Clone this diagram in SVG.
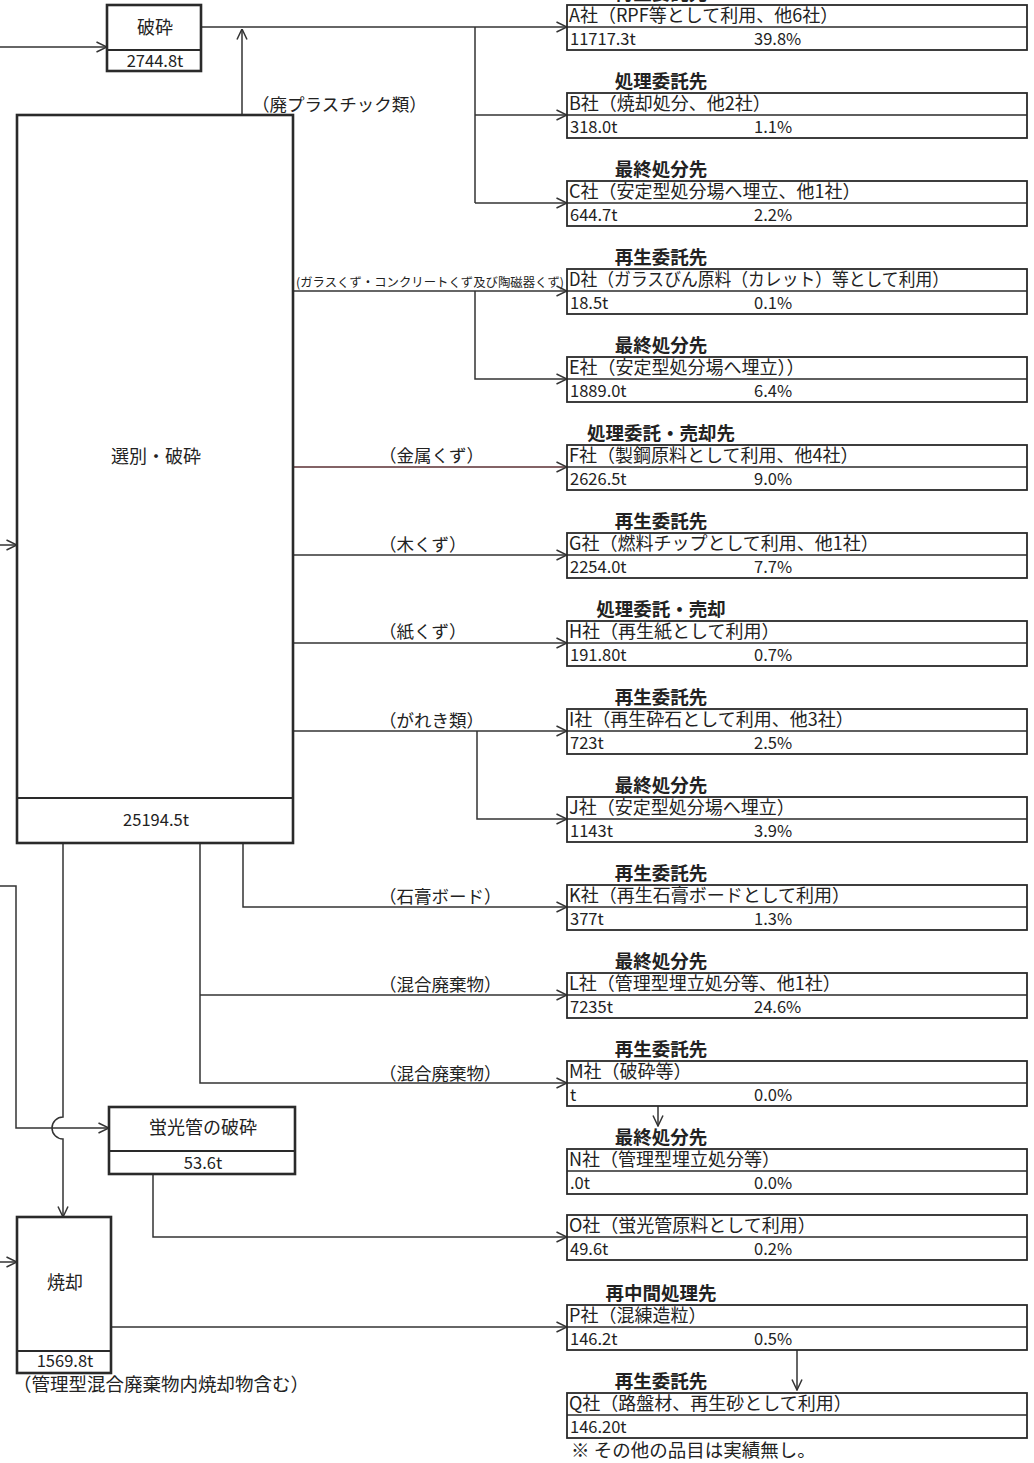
<svg xmlns="http://www.w3.org/2000/svg" width="1034" height="1463" viewBox="0 0 1034 1463">
<defs>
<style>
text{font-family:"Noto Sans CJK JP","Noto Sans",sans-serif;fill:#222}
.nb{fill:#fff;stroke:#2a2a2a;stroke-width:2.6}
.div{stroke:#2a2a2a;stroke-width:2;fill:none}
.rb{fill:#fff;stroke:#2a2a2a;stroke-width:1.8}
.rl{stroke:#2a2a2a;stroke-width:1.6;fill:none}
.c{stroke:#333;stroke-width:1.5;fill:none}
.ca{stroke:#333;stroke-width:1.5;fill:none;marker-end:url(#arr)}
.t1{font-size:18px}
.t2{font-size:16.5px}
.ttl{font-size:18.5px;font-weight:bold;text-anchor:middle}
.lbl{font-size:17.5px}
.nm{font-size:18px;text-anchor:middle}
.nv{font-size:16.5px;text-anchor:middle}
</style>
<marker id="arr" viewBox="0 0 12 12" refX="11.5" refY="6" markerWidth="12" markerHeight="12" orient="auto" markerUnits="userSpaceOnUse">
<path d="M1,1 L11.5,6 L1,11" fill="none" stroke="#333" stroke-width="1.5"/>
</marker>
</defs>

<g id="connectors">
<path class="ca" d="M0,47 H107"/>
<path class="ca" d="M0,545 H17"/>
<path class="ca" d="M0,1262 H17"/>
<path class="ca" d="M0,886 H16 V1128 H109"/>
<path class="ca" d="M201,27 H567"/>
<path class="c" d="M475,27 V203"/>
<path class="ca" d="M475,115 H567"/>
<path class="ca" d="M475,203 H567"/>
<path class="ca" d="M242,115 V29"/>
<path class="ca" d="M293,291 H567"/>
<path class="ca" d="M475,291 V379 H567"/>
<path class="ca" d="M293,467 H567" style="stroke:#5a2f33"/>
<path class="ca" d="M293,555 H567"/>
<path class="ca" d="M293,643 H567"/>
<path class="ca" d="M293,731 H567"/>
<path class="ca" d="M477,731 V819 H567"/>
<path class="ca" d="M243,843 V907 H567"/>
<path class="ca" d="M200,843 V1083 H567"/>
<path class="ca" d="M200,995 H567"/>
<path class="ca" d="M63,843 V1117 A11,11 0 0 0 63,1139 V1217"/>
<path class="ca" d="M153,1174 V1237 H567"/>
<path class="ca" d="M111,1327 H567"/>
<path class="ca" d="M658,1106 V1126"/>
<path class="ca" d="M797,1350 V1390"/>
<text class="lbl" x="252" y="111">（廃プラスチック類）</text>
<text x="296" y="287" style="font-size:12.5px" textLength="268" lengthAdjust="spacingAndGlyphs">(ガラスくず・コンクリートくず及び陶磁器くず)</text>
<text class="lbl" x="379" y="462">（金属くず）</text>
<text class="lbl" x="379" y="551">（木くず）</text>
<text class="lbl" x="379" y="638">（紙くず）</text>
<text class="lbl" x="379" y="727">（がれき類）</text>
<text class="lbl" x="379" y="903">（石膏ボード）</text>
<text class="lbl" x="379" y="991">（混合廃棄物）</text>
<text class="lbl" x="379" y="1080">（混合廃棄物）</text>
</g>

<g id="node-hasai">
<rect class="nb" x="107" y="5" width="94" height="66"/>
<line class="div" x1="107" y1="50" x2="201" y2="50"/>
<text class="nm" x="155" y="34">破砕</text>
<text class="nv" x="155" y="67">2744.8t</text>
</g>

<g id="node-senbetsu">
<rect class="nb" x="17" y="115" width="276" height="728"/>
<line class="div" x1="17" y1="798" x2="293" y2="798"/>
<text class="nm" x="156" y="463">選別・破砕</text>
<text class="nv" x="156" y="826">25194.5t</text>
</g>

<g id="node-keikou">
<rect class="nb" x="109" y="1107" width="186" height="67"/>
<line class="div" x1="109" y1="1151" x2="295" y2="1151"/>
<text class="nm" x="203" y="1134">蛍光管の破砕</text>
<text class="nv" x="203" y="1169">53.6t</text>
</g>

<g id="node-shoukyaku">
<rect class="nb" x="17" y="1217" width="94" height="156"/>
<line class="div" x1="17" y1="1351" x2="111" y2="1351"/>
<text class="nm" x="65" y="1289">焼却</text>
<text class="nv" x="65" y="1367">1569.8t</text>
<text style="font-size:18.5px" x="13" y="1391">（管理型混合廃棄物内焼却物含む）</text>
</g>

<g id="box-A">
<text class="ttl" x="661" y="0">再生委託先</text>
<rect class="rb" x="567" y="5" width="460" height="45"/><line class="rl" x1="567" y1="27" x2="1027" y2="27"/>
<text class="t1" x="569" y="22">A社（RPF等として利用、他6社）</text>
<text class="t2" x="570" y="45">11717.3t</text><text class="t2" x="754" y="45">39.8%</text>
</g>
<g id="box-B">
<text class="ttl" x="661" y="88">処理委託先</text>
<rect class="rb" x="567" y="93" width="460" height="45"/><line class="rl" x1="567" y1="115" x2="1027" y2="115"/>
<text class="t1" x="569" y="110">B社（焼却処分、他2社）</text>
<text class="t2" x="570" y="133">318.0t</text><text class="t2" x="754" y="133">1.1%</text>
</g>
<g id="box-C">
<text class="ttl" x="661" y="176">最終処分先</text>
<rect class="rb" x="567" y="181" width="460" height="45"/><line class="rl" x1="567" y1="203" x2="1027" y2="203"/>
<text class="t1" x="569" y="198">C社（安定型処分場へ埋立、他1社）</text>
<text class="t2" x="570" y="221">644.7t</text><text class="t2" x="754" y="221">2.2%</text>
</g>
<g id="box-D">
<text class="ttl" x="661" y="264">再生委託先</text>
<rect class="rb" x="567" y="269" width="460" height="45"/><line class="rl" x1="567" y1="291" x2="1027" y2="291"/>
<text class="t1" x="569" y="286" textLength="380" lengthAdjust="spacingAndGlyphs">D社（ガラスびん原料（カレット）等として利用）</text>
<text class="t2" x="570" y="309">18.5t</text><text class="t2" x="754" y="309">0.1%</text>
</g>
<g id="box-E">
<text class="ttl" x="661" y="352">最終処分先</text>
<rect class="rb" x="567" y="357" width="460" height="45"/><line class="rl" x1="567" y1="379" x2="1027" y2="379"/>
<text class="t1" x="569" y="374">E社（安定型処分場へ埋立））</text>
<text class="t2" x="570" y="397">1889.0t</text><text class="t2" x="754" y="397">6.4%</text>
</g>
<g id="box-F">
<text class="ttl" x="661" y="440">処理委託・売却先</text>
<rect class="rb" x="567" y="445" width="460" height="45"/><line class="rl" x1="567" y1="467" x2="1027" y2="467"/>
<text class="t1" x="569" y="462">F社（製鋼原料として利用、他4社）</text>
<text class="t2" x="570" y="485">2626.5t</text><text class="t2" x="754" y="485">9.0%</text>
</g>
<g id="box-G">
<text class="ttl" x="661" y="528">再生委託先</text>
<rect class="rb" x="567" y="533" width="460" height="45"/><line class="rl" x1="567" y1="555" x2="1027" y2="555"/>
<text class="t1" x="569" y="550">G社（燃料チップとして利用、他1社）</text>
<text class="t2" x="570" y="573">2254.0t</text><text class="t2" x="754" y="573">7.7%</text>
</g>
<g id="box-H">
<text class="ttl" x="661" y="616">処理委託・売却</text>
<rect class="rb" x="567" y="621" width="460" height="45"/><line class="rl" x1="567" y1="643" x2="1027" y2="643"/>
<text class="t1" x="569" y="638">H社（再生紙として利用）</text>
<text class="t2" x="570" y="661">191.80t</text><text class="t2" x="754" y="661">0.7%</text>
</g>
<g id="box-I">
<text class="ttl" x="661" y="704">再生委託先</text>
<rect class="rb" x="567" y="709" width="460" height="45"/><line class="rl" x1="567" y1="731" x2="1027" y2="731"/>
<text class="t1" x="569" y="726">I社（再生砕石として利用、他3社）</text>
<text class="t2" x="570" y="749">723t</text><text class="t2" x="754" y="749">2.5%</text>
</g>
<g id="box-J">
<text class="ttl" x="661" y="792">最終処分先</text>
<rect class="rb" x="567" y="797" width="460" height="45"/><line class="rl" x1="567" y1="819" x2="1027" y2="819"/>
<text class="t1" x="569" y="814">J社（安定型処分場へ埋立）</text>
<text class="t2" x="570" y="837">1143t</text><text class="t2" x="754" y="837">3.9%</text>
</g>
<g id="box-K">
<text class="ttl" x="661" y="880">再生委託先</text>
<rect class="rb" x="567" y="885" width="460" height="45"/><line class="rl" x1="567" y1="907" x2="1027" y2="907"/>
<text class="t1" x="569" y="902">K社（再生石膏ボードとして利用）</text>
<text class="t2" x="570" y="925">377t</text><text class="t2" x="754" y="925">1.3%</text>
</g>
<g id="box-L">
<text class="ttl" x="661" y="968">最終処分先</text>
<rect class="rb" x="567" y="973" width="460" height="45"/><line class="rl" x1="567" y1="995" x2="1027" y2="995"/>
<text class="t1" x="569" y="990">L社（管理型埋立処分等、他1社）</text>
<text class="t2" x="570" y="1013">7235t</text><text class="t2" x="754" y="1013">24.6%</text>
</g>
<g id="box-M">
<text class="ttl" x="661" y="1056">再生委託先</text>
<rect class="rb" x="567" y="1061" width="460" height="45"/><line class="rl" x1="567" y1="1083" x2="1027" y2="1083"/>
<text class="t1" x="569" y="1078">M社（破砕等）</text>
<text class="t2" x="570" y="1101">t</text><text class="t2" x="754" y="1101">0.0%</text>
</g>
<g id="box-N">
<text class="ttl" x="661" y="1144">最終処分先</text>
<rect class="rb" x="567" y="1149" width="460" height="45"/><line class="rl" x1="567" y1="1171" x2="1027" y2="1171"/>
<text class="t1" x="569" y="1166">N社（管理型埋立処分等）</text>
<text class="t2" x="570" y="1189">.0t</text><text class="t2" x="754" y="1189">0.0%</text>
</g>
<g id="box-O">
<rect class="rb" x="567" y="1215" width="460" height="45"/><line class="rl" x1="567" y1="1237" x2="1027" y2="1237"/>
<text class="t1" x="569" y="1232">O社（蛍光管原料として利用）</text>
<text class="t2" x="570" y="1255">49.6t</text><text class="t2" x="754" y="1255">0.2%</text>
</g>
<g id="box-P">
<text class="ttl" x="661" y="1300">再中間処理先</text>
<rect class="rb" x="567" y="1305" width="460" height="45"/><line class="rl" x1="567" y1="1327" x2="1027" y2="1327"/>
<text class="t1" x="569" y="1322">P社（混練造粒）</text>
<text class="t2" x="570" y="1345">146.2t</text><text class="t2" x="754" y="1345">0.5%</text>
</g>
<g id="box-Q">
<text class="ttl" x="661" y="1388">再生委託先</text>
<rect class="rb" x="567" y="1393" width="460" height="45"/><line class="rl" x1="567" y1="1415" x2="1027" y2="1415"/>
<text class="t1" x="569" y="1410">Q社（路盤材、再生砂として利用）</text>
<text class="t2" x="570" y="1433">146.20t</text>
</g>
<g id="note">
<text style="font-size:18.5px" x="571" y="1457">※ その他の品目は実績無し。</text>
</g>
</svg>
